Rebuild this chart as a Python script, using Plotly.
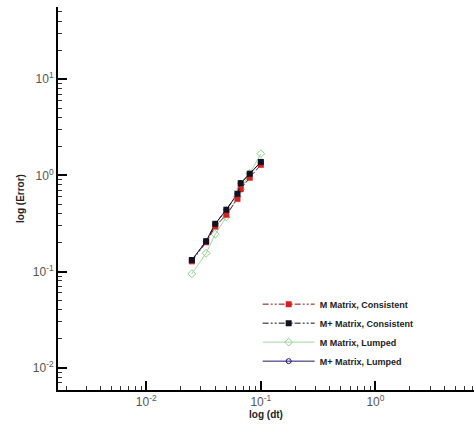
import plotly.graph_objects as go

dt = [0.025, 0.0333, 0.04, 0.05, 0.0625, 0.0667, 0.08, 0.1]
m_consistent = [0.128, 0.202, 0.294, 0.39, 0.571, 0.72, 0.946, 1.29]
mp_consistent = [0.132, 0.207, 0.314, 0.44, 0.645, 0.83, 1.04, 1.38]
m_lumped = [0.095, 0.155, 0.245, 0.37, 0.60, 0.72, 1.05, 1.68]
mp_lumped = [0.132, 0.207, 0.314, 0.44, 0.645, 0.83, 1.04, 1.38]

names = ["M Matrix, Consistent", "M+ Matrix, Consistent", "M Matrix, Lumped", "M+ Matrix, Lumped"]

font = "Liberation Sans, Arial, sans-serif"
fig = go.Figure()

# drawing order: blue (hidden), green, red, black
fig.add_trace(go.Scatter(x=dt, y=mp_lumped, name=names[3], legendrank=4, mode="lines+markers",
                         line=dict(color="#1a1a6e", width=1),
                         marker=dict(symbol="circle-open", size=5, color="#1a1a6e", line=dict(width=1))))
fig.add_trace(go.Scatter(x=dt, y=m_lumped, name=names[2], legendrank=3, mode="lines+markers",
                         line=dict(color="#9fd89f", width=1),
                         marker=dict(symbol="diamond-open", size=6, color="#8fd08f", line=dict(width=1))))
fig.add_trace(go.Scatter(x=dt, y=m_consistent, name=names[0], legendrank=1, mode="lines+markers",
                         line=dict(color="#8b1010", width=1, dash="6px,2px,2px,2px,2px,2px"),
                         marker=dict(symbol="square", size=6, color="#d42020")))
fig.add_trace(go.Scatter(x=dt, y=mp_consistent, name=names[1], legendrank=2, mode="lines+markers",
                         line=dict(color="#111111", width=1, dash="6px,2px,2px,2px,2px,2px"),
                         marker=dict(symbol="square", size=6, color="#111122")))

tv = [0.01, 0.1, 1, 10]
tt = ["10<sup>-2</sup>", "10<sup>-1</sup>", "10<sup>0</sup>", "10<sup>1</sup>"]

axis_common = dict(
    type="log", showgrid=False, zeroline=False, showline=True, linecolor="black", linewidth=2,
    ticks="inside", ticklen=9, tickwidth=2, tickcolor="black",
    tickvals=tv, ticktext=tt,
    tickfont=dict(family=font, size=12, color="#555555"),
    minor=dict(ticks="inside", ticklen=4, tickwidth=1, tickcolor="#333333", dtick="D1", showgrid=False),
)

fig.update_xaxes(**axis_common, range=[-2.77, 0.86],
                 title=dict(text="<b>log (dt)</b>", font=dict(family=font, size=10, color="#222222"), standoff=3))
fig.update_yaxes(**axis_common, range=[-2.23, 1.75],
                 title=dict(text="<b>log (Error)</b>", font=dict(family=font, size=10, color="#222222"), standoff=6))

fig.update_layout(
    width=474, height=428,
    margin=dict(l=58, r=0, t=7, b=38),
    paper_bgcolor="white", plot_bgcolor="white",
    showlegend=True,
    legend=dict(x=0.48, y=0.262, xanchor="left", yanchor="top",
                font=dict(family=font, size=9, color="#222222", weight="bold"),
                bgcolor="rgba(0,0,0,0)", itemwidth=52, tracegroupgap=0),
)

fig.write_html("out.html")
